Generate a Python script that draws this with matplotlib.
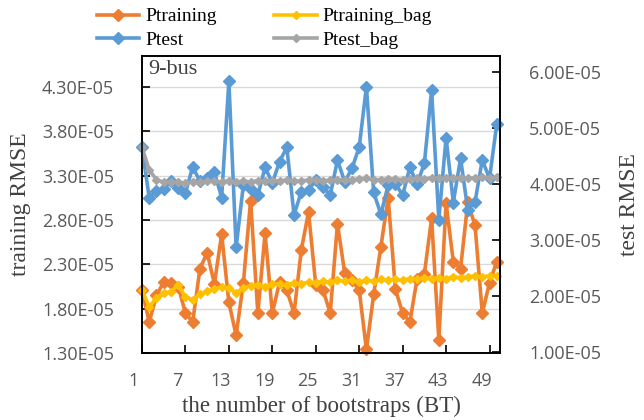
import matplotlib
matplotlib.use("Agg")
import matplotlib.pyplot as plt
import matplotlib.transforms as mtransforms
from matplotlib.ticker import FuncFormatter

# RMSE values in units of 1e-5
bootstraps = list(range(1, 51))
p_training = [2.01, 1.65, 1.95, 2.10, 2.09, 2.05, 1.75, 1.65, 2.25, 2.43,
              2.08, 2.64, 1.87, 1.50, 2.09, 3.02, 1.75, 2.65, 1.75, 2.10,
              2.01, 1.75, 2.46, 2.89, 2.07, 2.01, 1.75, 2.76, 2.20, 2.12,
              2.01, 1.34, 1.96, 2.50, 3.05, 2.02, 1.75, 1.65, 2.14, 2.19,
              2.82, 1.45, 2.99, 2.33, 2.25, 3.00, 2.74, 1.75, 2.09, 2.33]
p_training_bag = [2.01, 1.82, 1.92, 1.98, 1.99, 2.07, 1.93, 1.90, 1.96, 2.00,
                  2.02, 2.05, 2.03, 1.98, 2.03, 2.06, 2.07, 2.05, 2.08, 2.08,
                  2.07, 2.09, 2.08, 2.10, 2.09, 2.11, 2.10, 2.12, 2.11, 2.12,
                  2.10, 2.12, 2.11, 2.13, 2.12, 2.13, 2.12, 2.14, 2.13, 2.15,
                  2.14, 2.15, 2.14, 2.16, 2.15, 2.16, 2.17, 2.16, 2.17, 2.17]
p_test = [4.66, 3.75, 3.88, 3.92, 4.05, 3.93, 3.84, 4.31, 4.05, 4.10,
          4.21, 3.76, 5.84, 2.87, 3.98, 3.92, 3.80, 4.30, 4.02, 4.40,
          4.66, 3.45, 3.86, 3.89, 4.07, 3.95, 3.80, 4.43, 4.04, 4.28,
          4.66, 5.74, 3.85, 3.46, 3.98, 4.01, 3.80, 4.30, 4.00, 4.37,
          5.68, 3.36, 4.83, 3.67, 4.46, 3.54, 3.68, 4.43, 4.10, 5.07]
p_test_bag = [4.66, 4.25, 4.08, 4.03, 4.04, 4.03, 4.02, 4.04, 4.03, 4.05,
              4.05, 4.04, 4.06, 4.04, 4.05, 4.04, 4.06, 4.05, 4.06, 4.06,
              4.07, 4.05, 4.06, 4.07, 4.07, 4.06, 4.07, 4.08, 4.07, 4.08,
              4.09, 4.10, 4.08, 4.08, 4.09, 4.09, 4.08, 4.09, 4.10, 4.09,
              4.11, 4.10, 4.10, 4.11, 4.11, 4.10, 4.11, 4.12, 4.11, 4.12]

x_ticks = [1, 7, 13, 19, 25, 31, 37, 43, 49]
left_ticks = [1.3, 1.8, 2.3, 2.8, 3.3, 3.8, 4.3]
right_ticks = [1.0, 2.0, 3.0, 4.0, 5.0, 6.0]

scale = 1e-5
orange, blue, yellow, gray = "#ED7D31", "#5B9BD5", "#FFC000", "#A5A5A5"
tick_color = "#595959"
label_font = "Liberation Serif"
tick_font = "Open Sans"

fig = plt.figure(figsize=(6.44, 4.2), dpi=100)
ax = fig.add_axes([0.2205, 0.1595, 0.5559, 0.7072])
ax2 = ax.twinx()

l1, = ax.plot(bootstraps, [v * scale for v in p_training], color=orange, lw=2.6,
              marker="D", ms=6.5, label="Ptraining", clip_on=False)
l3, = ax.plot(bootstraps, [v * scale for v in p_training_bag], color=yellow, lw=2.6,
              marker="D", ms=4, label="Ptraining_bag", clip_on=False)
l2, = ax2.plot(bootstraps, [v * scale for v in p_test], color=blue, lw=2.6,
               marker="D", ms=6.5, label="Ptest", clip_on=False)
l4, = ax2.plot(bootstraps, [v * scale for v in p_test_bag], color=gray, lw=2.6,
               marker="D", ms=4, label="Ptest_bag", clip_on=False)

ax.set_xlim(1, 50.45)
ax.set_ylim(1.3 * scale, 4.65 * scale)
ax2.set_ylim(0.98 * scale, 6.29 * scale)

ax.set_yticks([v * scale for v in left_ticks])
ax2.set_yticks([v * scale for v in right_ticks])
ax.set_xticks(x_ticks)
sci = FuncFormatter(lambda v, pos: f"{v / scale:.2f}E-05")
ax.yaxis.set_major_formatter(sci)
ax2.yaxis.set_major_formatter(sci)

ax.grid(axis="y", color="#D9D9D9", lw=1.0)
ax.set_axisbelow(True)

for a in (ax, ax2):
    for s in a.spines.values():
        s.set_color("black")
        s.set_linewidth(1.2)
    a.tick_params(direction="in", length=6, width=1.2, colors="black",
                  labelcolor=tick_color, labelsize=13)
ax.tick_params(axis="y", pad=20)
ax2.tick_params(axis="y", pad=21)
ax.tick_params(axis="x", pad=14)

for lab in ax.get_xticklabels() + ax.get_yticklabels() + ax2.get_yticklabels():
    lab.set_fontfamily(tick_font)

# shift the x tick labels slightly left of their tick marks
shift = mtransforms.ScaledTranslation(-0.08, 0, fig.dpi_scale_trans)
for lab in ax.get_xticklabels():
    lab.set_transform(lab.get_transform() + shift)

ax.set_xlabel("the number of bootstraps (BT)", family=label_font, fontsize=16.5,
              color="#404040", labelpad=4)
ax.set_ylabel("training RMSE", family=label_font, fontsize=17, color="#404040",
              labelpad=8)
ax2.set_ylabel("test RMSE", family=label_font, fontsize=17, color="#404040",
               labelpad=13)

ax.text(0.018, 0.985, "9-bus", transform=ax.transAxes, ha="left", va="top",
        family=label_font, fontsize=16, color="#404040")

fig.legend(handles=[l1, l2, l3, l4], ncol=2, loc="upper left",
           bbox_to_anchor=(0.138, 1.0), frameon=False,
           prop={"family": label_font, "size": 14},
           handlelength=2.2, handletextpad=0.3, columnspacing=2.95,
           labelspacing=0.32, borderaxespad=0)

fig.savefig("out.png", dpi=100)
